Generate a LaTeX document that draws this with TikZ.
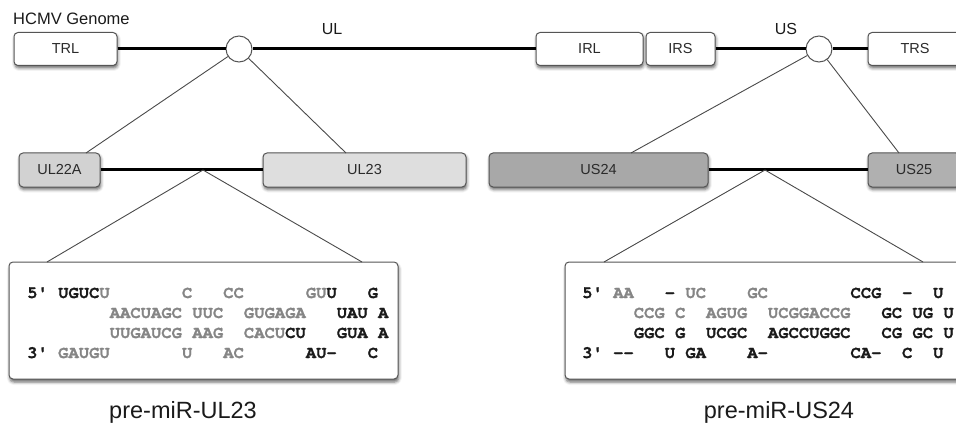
\documentclass[tikz,border=0pt]{standalone}
\usepackage{fontspec}
\setmainfont{Liberation Sans}
\setmonofont{TeX Gyre Cursor}[BoldFeatures={FakeBold=1.2}]
\usetikzlibrary{shadows.blur}

\definecolor{boxline}{HTML}{555555}
\definecolor{spokecol}{HTML}{4A4A4A}
\definecolor{labeltext}{HTML}{2A2A2A}
\definecolor{ntdark}{HTML}{1A1A1A}
\definecolor{ntpale}{HTML}{858585}
\definecolor{fillA}{HTML}{D2D2D2}
\definecolor{fillB}{HTML}{DEDEDE}
\definecolor{fillC}{HTML}{A8A8A8}
\definecolor{fillD}{HTML}{B0B0B0}

% blank columns in the monospaced hairpin rows
\newcommand\sk[1]{\hspace*{#1\dimexpr 0.6em\relax}}
\newcommand\pale[1]{\textcolor{ntpale}{#1}}

\begin{document}
\begin{tikzpicture}[x=1pt,y=-1pt,
  genebox/.style={draw=boxline, line width=1pt, rounded corners=4pt,
    minimum height=33pt, inner sep=0pt, text=labeltext,
    font=\fontsize{14.5}{16}\selectfont,
    blur shadow={shadow xshift=0.8pt, shadow yshift=-2.5pt,
      shadow blur radius=3pt, shadow opacity=60}},
  hub/.style={circle, draw=boxline, fill=white, line width=1pt,
    minimum size=26pt, inner sep=0pt},
  backbone/.style={line width=3pt, draw=black},
  spoke/.style={line width=0.9pt, draw=spokecol},
  seqbox/.style={draw=boxline, fill=white, line width=1pt, rounded corners=4pt,
    inner sep=0pt,
    blur shadow={shadow xshift=0.8pt, shadow yshift=-3pt,
      shadow blur radius=3pt, shadow opacity=60}},
  seqrow/.style={anchor=base west, inner sep=0pt, text=ntdark,
    font=\ttfamily\bfseries\fontsize{17.2}{20}\selectfont},
  caption/.style={anchor=base, inner sep=0pt, text=ntdark,
    font=\fontsize{23.5}{26}\selectfont}]
\useasboundingbox (0,0) rectangle (956,425);

% ---------- genome ----------
\node[anchor=base west, inner sep=0pt, text=ntdark, font=\fontsize{16.5}{18}\selectfont]
  (title) at (13,25) {HCMV Genome};
\node[anchor=base, inner sep=0pt, text=ntdark, font=\fontsize{16}{18}\selectfont]
  (ullab) at (332,35) {UL};
\node[anchor=base, inner sep=0pt, text=ntdark, font=\fontsize{16}{18}\selectfont]
  (uslab) at (786,35) {US};

\node[genebox, fill=white, minimum width=103pt] (trl) at (65.5,49) {TRL};
\node[genebox, fill=white, minimum width=107pt] (irl) at (589.5,49) {IRL};
\node[genebox, fill=white, minimum width=69pt]  (irs) at (680.5,49) {IRS};
\node[genebox, fill=white, minimum width=94pt]  (trs) at (915,49) {TRS};
\node[hub] (hubL) at (239,49) {};
\node[hub] (hubR) at (819,49) {};

\draw[backbone] (trl) -- (hubL) -- (irl);
\draw[backbone] (irs) -- (hubR) -- (trs);

% ---------- gene neighbourhoods ----------
\node[genebox, fill=fillA, minimum width=81pt, minimum height=34pt]  (ul22a) at (59.5,170) {UL22A};
\node[genebox, fill=fillB, minimum width=203pt, minimum height=34pt] (ul23)  at (364.5,170) {UL23};
\node[genebox, fill=fillC, minimum width=219pt, minimum height=34pt] (us24)  at (598.5,170) {US24};
\node[genebox, fill=fillD, minimum width=92pt, minimum height=34pt]  (us25)  at (914,170) {US25};

\draw[backbone] (ul22a) -- (ul23);
\draw[backbone] (us24) -- (us25);

\coordinate (sA) at (86,153);
\coordinate (sB) at (346,153);
\coordinate (sC) at (631,153);
\coordinate (sD) at (899,153);
\draw[spoke] (hubL) -- (sA);
\draw[spoke] (hubL) -- (sB);
\draw[spoke] (hubR) -- (sC);
\draw[spoke] (hubR) -- (sD);

% ---------- hairpins ----------
\node[seqbox, minimum width=389pt, minimum height=117pt] (seqL) at (203.5,320.5) {};
\node[seqbox, minimum width=401pt, minimum height=117pt] (seqR) at (765.5,320.5) {};

\coordinate (jL) at (203,170);
\coordinate (jR) at (765,170);
\coordinate (tA) at (47,262);
\coordinate (tB) at (362,262);
\coordinate (tC) at (604,262);
\coordinate (tD) at (923,262);
\draw[spoke] (jL) -- (tA);
\draw[spoke] (jL) -- (tB);
\draw[spoke] (jR) -- (tC);
\draw[spoke] (jR) -- (tD);

% pre-miR-UL23
\node[seqrow] (la) at (27,298)
  {5'\sk1UGUC\pale{U}\sk7\pale{C}\sk3\pale{CC}\sk6\pale{GU}U\sk3G};
\node[seqrow] (lb) at (27,318)
  {\sk8\pale{AACUAGC}\sk1\pale{UUC}\sk2\pale{GUGAGA}\sk3UAU\sk1A};
\node[seqrow] (lc) at (27,338)
  {\sk8\pale{UUGAUCG}\sk1\pale{AAG}\sk2\pale{CACU}CU\sk3GUA\sk1A};
\node[seqrow] (ld) at (27,358)
  {3'\sk1\pale{GAUGU}\sk7\pale{U}\sk3\pale{AC}\sk6AU-\sk3C};

% pre-miR-US24
\node[seqrow] (ra) at (582,298)
  {5'\sk1\pale{AA}\sk3-\sk1\pale{UC}\sk4\pale{GC}\sk8CCG\sk2-\sk2U};
\node[seqrow] (rb) at (582,318)
  {\sk5\pale{CCG}\sk1\pale{C}\sk2\pale{AGUG}\sk2\pale{UCGGACCG}\sk3GC\sk1UG\sk1U};
\node[seqrow] (rc) at (582,338)
  {\sk5GGC\sk1G\sk2UCGC\sk2AGCCUGGC\sk3CG\sk1GC\sk1U};
\node[seqrow] (rd) at (582,358)
  {3'\sk1--\sk3U\sk1GA\sk4A-\sk8CA-\sk2C\sk2U};

\node[caption] (capL) at (183,418) {pre-miR-UL23};
\node[caption] (capR) at (779,418) {pre-miR-US24};
\end{tikzpicture}
\end{document}
